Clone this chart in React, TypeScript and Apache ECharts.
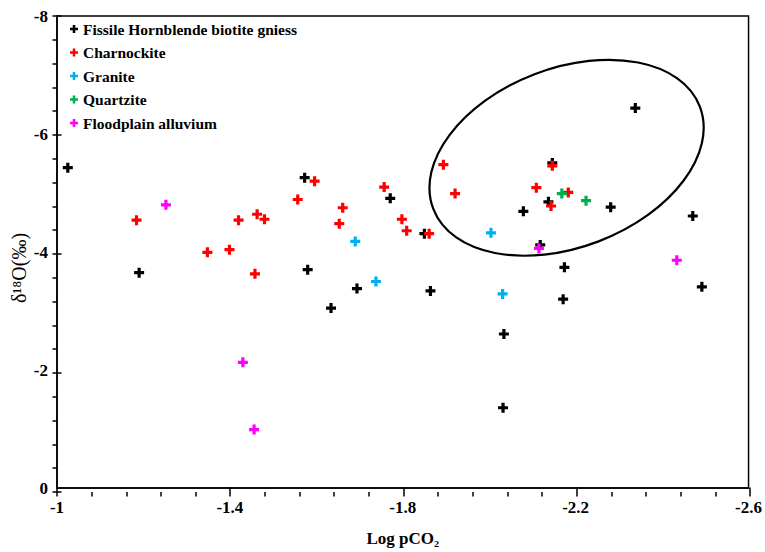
import React, { useEffect, useRef } from "react";
import * as echarts from "echarts";

const seriesNames = [
  "Fissile Hornblende biotite gniess",
  "Charnockite",
  "Granite",
  "Quartzite",
  "Floodplain alluvium",
];
const seriesColors = ["#000000", "#ff0000", "#00b0f0", "#00b050", "#ff00ff"];

const gneiss: number[][] = [
  [-1.025, -5.43], [-1.19, -3.65], [-1.573, -5.26], [-1.58, -3.7], [-1.634, -3.05],
  [-1.694, -3.38], [-1.771, -4.91], [-1.85, -4.31], [-1.864, -3.34], [-2.034, -2.61],
  [-2.032, -1.36], [-2.079, -4.69], [-2.118, -4.12], [-2.146, -5.51], [-2.137, -4.85],
  [-2.174, -3.74], [-2.171, -3.2], [-2.281, -4.76], [-2.338, -6.44], [-2.471, -4.61],
  [-2.492, -3.41],
];
const charnockite: number[][] = [
  [-1.184, -4.54], [-1.348, -3.995], [-1.399, -4.04], [-1.42, -4.54], [-1.458, -3.63],
  [-1.463, -4.64], [-1.48, -4.555], [-1.557, -4.89], [-1.596, -5.2], [-1.653, -4.48],
  [-1.661, -4.75], [-1.757, -5.1], [-1.798, -4.555], [-1.809, -4.36], [-1.861, -4.31],
  [-1.894, -5.48], [-1.921, -4.99], [-2.109, -5.09], [-2.143, -4.78], [-2.146, -5.46],
  [-2.183, -5.01],
];
const granite: number[][] = [[-1.69, -4.18], [-1.738, -3.5], [-2.004, -4.325], [-2.031, -3.29]];
const quartzite: number[][] = [[-2.168, -4.99], [-2.224, -4.87]];
const alluvium: number[][] = [[-1.252, -4.8], [-1.43, -2.13], [-1.456, -0.99], [-2.115, -4.06], [-2.434, -3.86]];

const ellipseCenter: number[] = [-2.179, -5.597];

const xMin = -2.6;
const xMax = -1;
const xInterval = 0.4;
const yMin = -8;
const yMax = 0;
const yInterval = 2;

const PLUS = "path://M3.4,0H6.6V3.4H10V6.6H6.6V10H3.4V6.6H0V3.4H3.4Z";
const FONT = "Liberation Serif, DejaVu Serif, serif";

const GRID = { left: 57, right: 15, top: 16, bottom: 60 };

function tickOption(inside: boolean) {
  const ls = { color: "#000", width: 1.5 };
  const base = {
    type: "value",
    axisLine: { show: false, onZero: false },
    axisLabel: { show: false },
    splitLine: { show: false },
    axisTick: { show: true, inside, length: 4.5, lineStyle: ls },
    minorTick: { show: !inside, splitNumber: 5, length: 4.5, lineStyle: ls },
  };
  return {
    animation: false,
    backgroundColor: "transparent",
    grid: { ...GRID },
    xAxis: { ...base, min: xMin, max: xMax, interval: xInterval, inverse: true },
    yAxis: { ...base, min: yMin, max: yMax, interval: yInterval, inverse: true },
    series: [{ type: "scatter", data: [] as number[][] }],
  };
}

export default function App() {
  const ref = useRef<HTMLDivElement>(null);
  const outRef = useRef<HTMLDivElement>(null);
  const inRef = useRef<HTMLDivElement>(null);
  useEffect(() => {
    if (!ref.current || !outRef.current || !inRef.current) return;
    const chart = echarts.init(ref.current, undefined, { renderer: "svg" });
    const allData = [gneiss, charnockite, granite, quartzite, alluvium];
    const ls = () => ({ color: "#000", width: 1.5 });
    chart.setOption({
      animation: false,
      backgroundColor: "transparent",
      grid: { ...GRID, show: true, borderColor: "#000", borderWidth: 1.5 },
      legend: {
        data: seriesNames,
        orient: "vertical",
        left: 70,
        top: 21,
        padding: 0,
        itemGap: 7.5,
        itemWidth: 8,
        itemHeight: 8,
        icon: PLUS,
        textStyle: { fontFamily: FONT, fontWeight: "bold", fontSize: 15.5, color: "#000", lineHeight: 16 },
      },
      xAxis: {
        type: "value",
        min: xMin,
        max: xMax,
        interval: xInterval,
        inverse: true,
        name: "Log pCO\u2082",
        nameLocation: "middle",
        nameGap: 42,
        nameTextStyle: { fontFamily: FONT, fontWeight: "bold", fontSize: 17, color: "#000" },
        axisLine: { show: true, onZero: false, lineStyle: ls() },
        splitLine: { show: false },
        axisTick: { show: false },
        axisLabel: { fontFamily: FONT, fontWeight: "bold", fontSize: 17, color: "#000", margin: 11 },
      },
      yAxis: {
        type: "value",
        min: yMin,
        max: yMax,
        interval: yInterval,
        inverse: true,
        axisLine: { show: true, onZero: false, lineStyle: ls() },
        splitLine: { show: false },
        axisTick: { show: false },
        axisLabel: { fontFamily: FONT, fontWeight: "bold", fontSize: 17, color: "#000", margin: 9 },
      },
      series: seriesNames.map((name, i) => ({
        type: "scatter",
        name,
        data: allData[i],
        symbol: PLUS,
        symbolSize: 10,
        itemStyle: { color: seriesColors[i], opacity: 1 },
        z: 2 + i,
      })),
    });

    const c = chart.convertToPixel({ xAxisIndex: 0, yAxisIndex: 0 }, ellipseCenter) as number[];
    chart.setOption({
      graphic: [
        {
          type: "ellipse",
          silent: true,
          z: 1,
          x: c[0],
          y: c[1],
          rotation: (21 * Math.PI) / 180,
          shape: { cx: 0, cy: 0, rx: 142.7, ry: 89.5 },
          style: { fill: "none", stroke: "#000", lineWidth: 2.2 },
        },
        {
          type: "text",
          x: 19,
          y: 268,
          rotation: Math.PI / 2,
          style: {
            text: "\u03b4\u00b9\u2078O(\u2030)",
            fontFamily: FONT,
            fontSize: 20,
            fill: "#000",
            align: "center",
            verticalAlign: "middle",
          },
        },
      ],
    });

    const outChart = echarts.init(outRef.current, undefined, { renderer: "svg" });
    outChart.setOption(tickOption(false) as any);
    const inChart = echarts.init(inRef.current, undefined, { renderer: "svg" });
    inChart.setOption(tickOption(true) as any);

    return () => {
      chart.dispose();
      outChart.dispose();
      inChart.dispose();
    };
  }, []);
  const layer: React.CSSProperties = { width: 765, height: 552, position: "absolute", left: 0, top: 0 };
  return (
    <div style={{ width: 765, height: 552, position: "absolute", left: 0, top: 0, background: "#fff" }}>
      <div ref={ref} style={layer} />
      <div ref={outRef} style={{ ...layer, pointerEvents: "none" }} />
      <div ref={inRef} style={{ ...layer, pointerEvents: "none" }} />
    </div>
  );
}
